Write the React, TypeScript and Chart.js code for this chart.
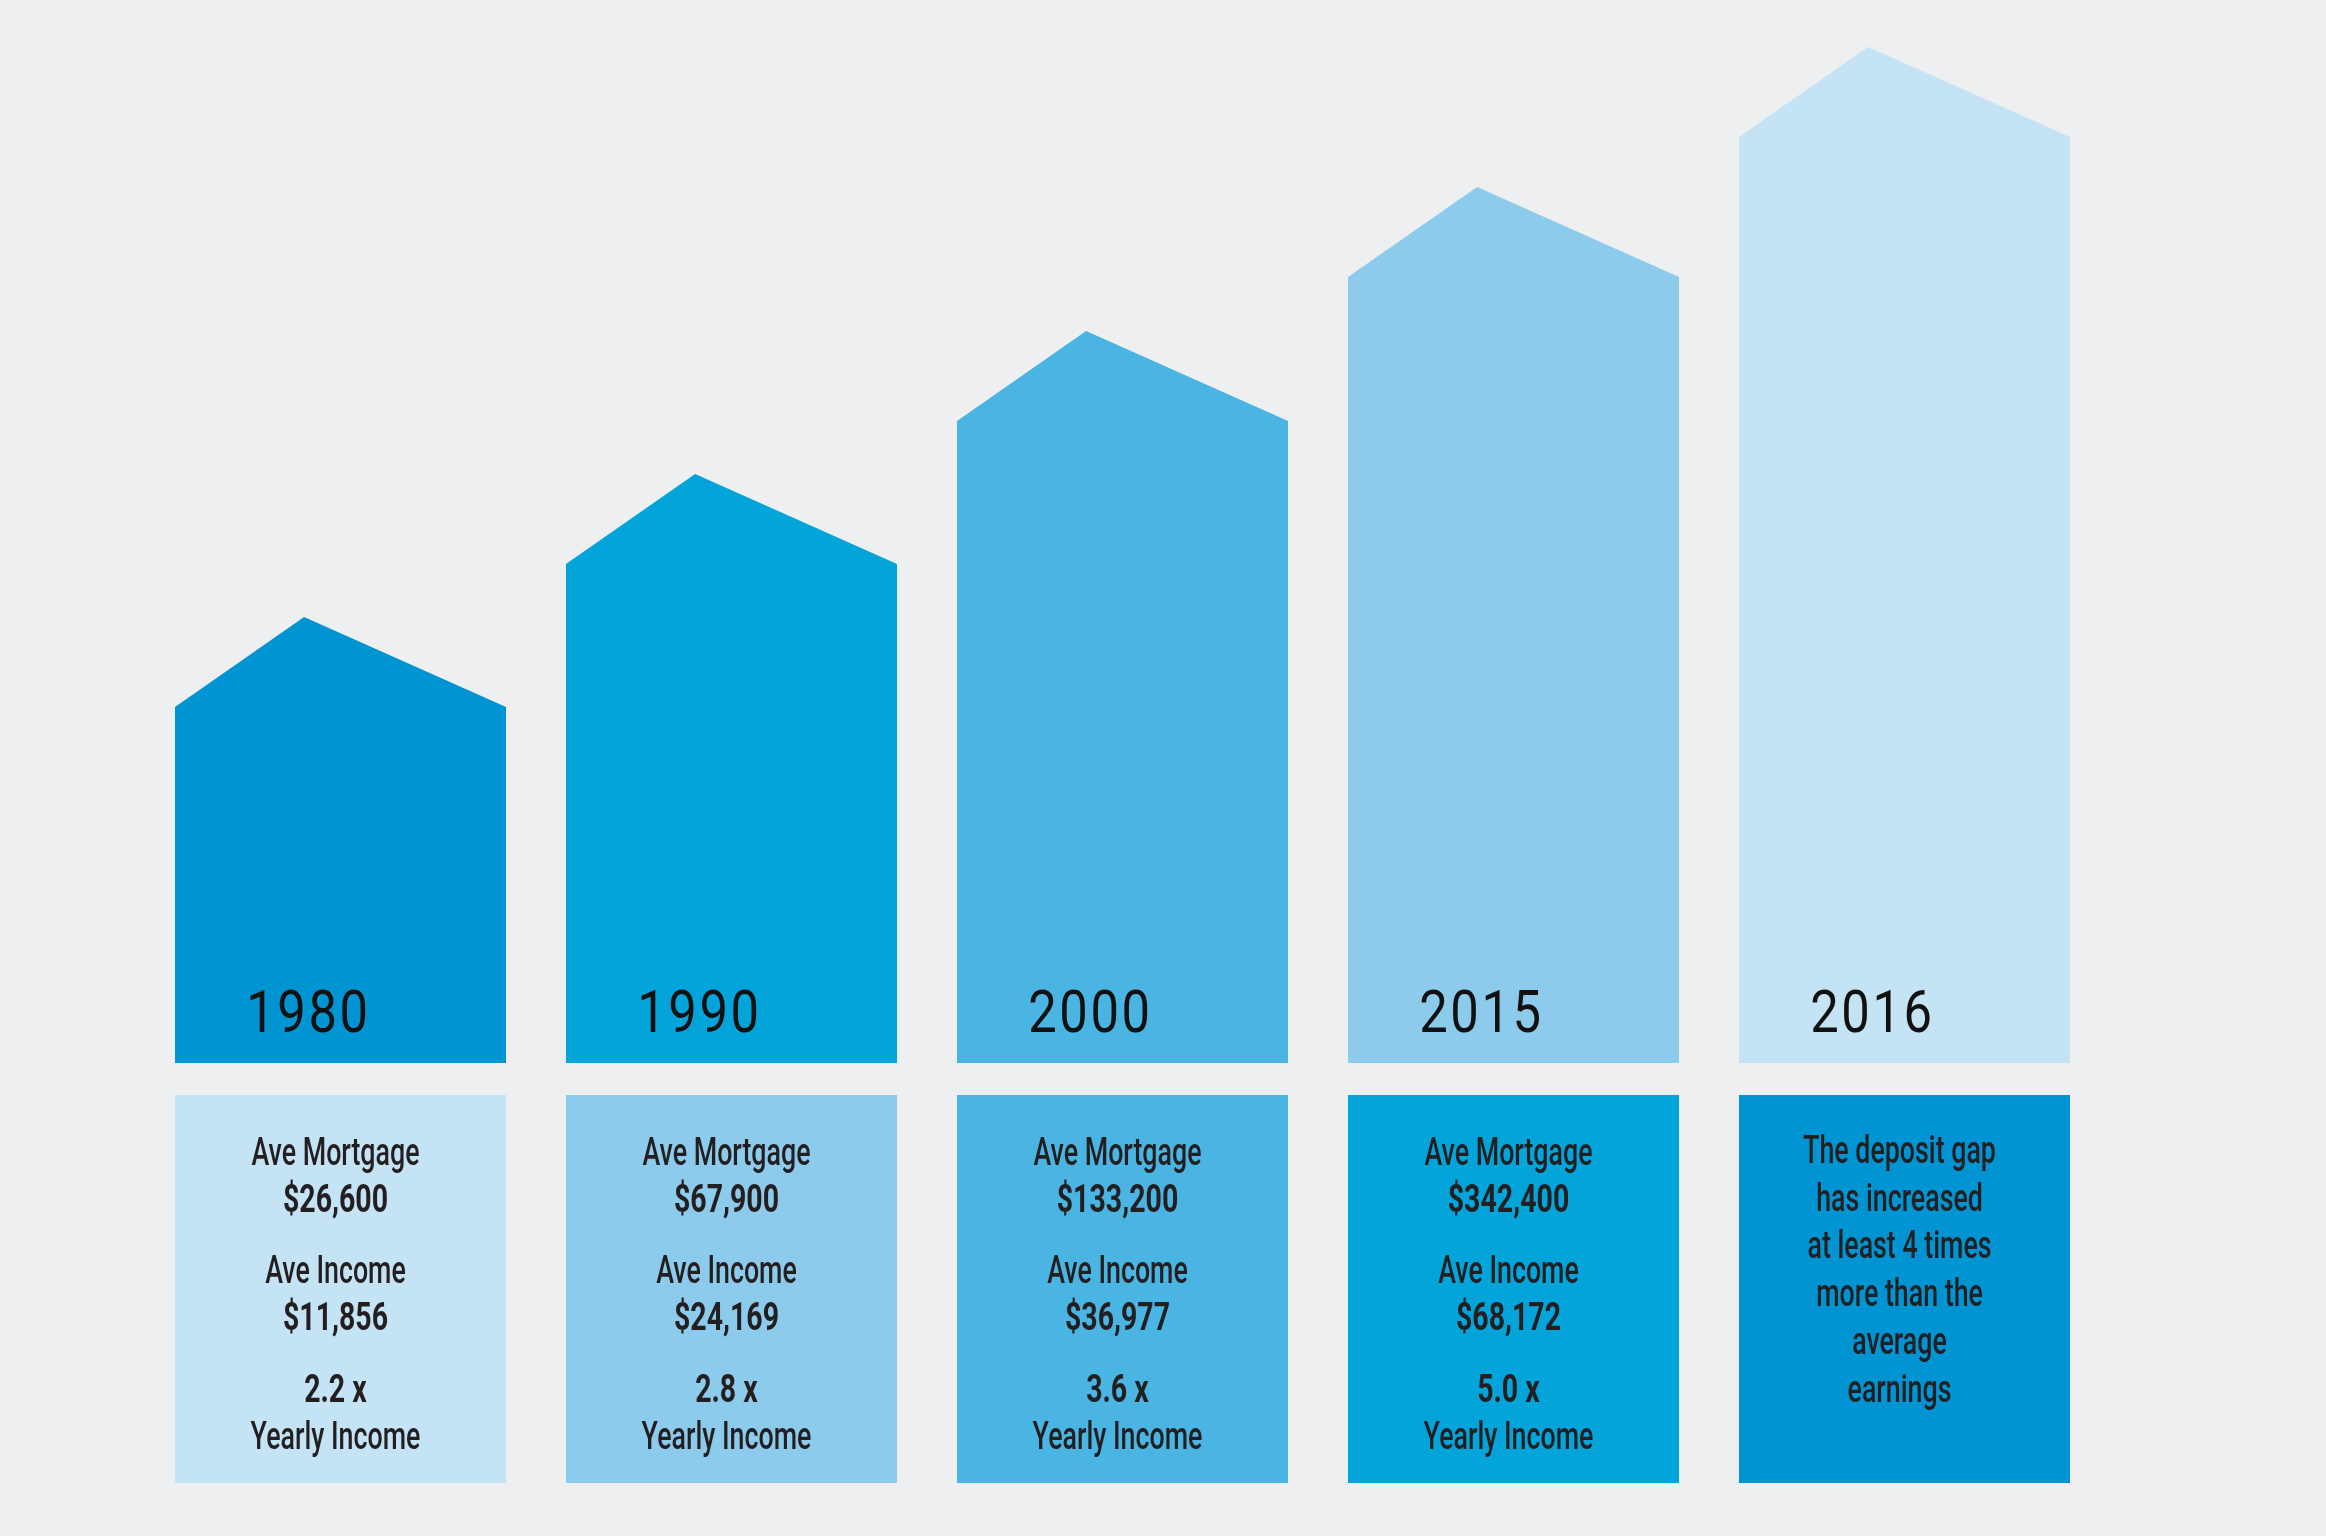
import React, { useEffect, useRef } from "react";
import { Chart, registerables } from "chart.js";

Chart.register(...registerables);

// ---- data ----
const years = ["1980", "1990", "2000", "2015", "2016"];
const houseHeights = [356, 499, 642, 786, 926];
const roofRise = 90;
const mortgages = [26600, 67900, 133200, 342400];
const incomes = [11856, 24169, 36977, 68172];
const ratios = [2.2, 2.8, 3.6, 5.0];
const gapNote = [
  "The deposit gap",
  "has increased",
  "at least 4 times",
  "more than the",
  "average",
  "earnings",
];
const panelRange = [-420, -32];

// ---- styles ----
const houseColors = ["#0094D2", "#03A4DA", "#4AB4E2", "#8DCBEC", "#C4E3F5"];
const panelColors = ["#C4E3F5", "#8DCBEC", "#4AB4E2", "#03A4DA", "#0094D2"];
const bg = "#EDEFF1";
const textDark = "#231F20";

const fmt = (n: number) => n.toLocaleString("en-US");

const drawCondensed = (
  ctx: CanvasRenderingContext2D,
  text: string,
  cx: number,
  y: number,
  font: string,
  sx: number,
  spacing = "0px"
) => {
  ctx.save();
  ctx.translate(cx, y);
  ctx.scale(sx, 1);
  ctx.font = font;
  (ctx as any).letterSpacing = spacing;
  ctx.textAlign = "center";
  ctx.textBaseline = "alphabetic";
  ctx.fillText(text, 0, 0);
  ctx.restore();
};

const housePlugin = {
  id: "houses",
  afterDatasetsDraw(chart: any) {
    const ctx: CanvasRenderingContext2D = chart.ctx;
    const yScale = chart.scales.y;
    const houses = chart.getDatasetMeta(0).data;
    houses.forEach((bar: any, i: number) => {
      const { x, y: top, width, base } = bar.getProps(["x", "y", "width", "base"], true);
      const left = x - width / 2;
      const right = x + width / 2;
      const peakY = yScale.getPixelForValue(houseHeights[i] + roofRise);
      ctx.save();
      ctx.fillStyle = houseColors[i];
      ctx.beginPath();
      ctx.moveTo(left, top + 1.5);
      ctx.lineTo(left, top);
      ctx.lineTo(left + width * 0.39, peakY);
      ctx.lineTo(right, top);
      ctx.lineTo(right, top + 1.5);
      ctx.closePath();
      ctx.fill();
      ctx.fillStyle = "#111111";
      drawCondensed(ctx, years[i], x - width * 0.097, base - 31, "400 59px Roboto", 0.86, "3px");
      ctx.restore();
    });

    const panels = chart.getDatasetMeta(1).data;
    panels.forEach((bar: any, i: number) => {
      const { x } = bar.getProps(["x"], true);
      const topPx = yScale.getPixelForValue(panelRange[1]);
      const cx = x - 5;
      ctx.save();
      ctx.fillStyle = textDark;
      const reg = "500 38px Roboto";
      const bold = "700 38px Roboto";
      const sxReg = 0.705;
      const sxBold = 0.75;
      if (i < mortgages.length) {
        const lines = [
          { t: "Ave Mortgage", f: reg, s: sxReg, o: 70 },
          { t: "$" + fmt(mortgages[i]), f: bold, s: sxBold, o: 117 },
          { t: "Ave Income", f: reg, s: sxReg, o: 188 },
          { t: "$" + fmt(incomes[i]), f: bold, s: sxBold, o: 235 },
          { t: ratios[i].toFixed(1) + " x", f: bold, s: sxBold, o: 307 },
          { t: "Yearly Income", f: reg, s: sxReg, o: 354 },
        ];
        lines.forEach((l) => drawCondensed(ctx, l.t, cx, topPx + l.o, l.f, l.s));
      } else {
        gapNote.forEach((t, k) => drawCondensed(ctx, t, cx, topPx + 68 + k * 47.7, reg, sxReg));
      }
      ctx.restore();
    });
  },
};

export default function App() {
  const ref = useRef<HTMLCanvasElement | null>(null);
  useEffect(() => {
    document.body.style.margin = "0";
    document.body.style.background = bg;
    if (!ref.current) return;
    const chart = new Chart(ref.current, {
      type: "bar",
      data: {
        labels: years,
        datasets: [
          {
            data: houseHeights,
            backgroundColor: houseColors,
            borderWidth: 0,
            grouped: false,
            barPercentage: 0.8466,
            categoryPercentage: 1,
          } as any,
          {
            data: years.map(() => panelRange),
            backgroundColor: panelColors,
            borderWidth: 0,
            grouped: false,
            barPercentage: 0.8466,
            categoryPercentage: 1,
          } as any,
        ],
      },
      options: {
        responsive: true,
        maintainAspectRatio: false,
        animation: false,
        events: [],
        layout: { padding: { left: 145, right: 226, top: 0, bottom: 0 } },
        scales: {
          x: { display: false },
          y: { display: false, min: -473, max: 1063 },
        },
        plugins: {
          legend: { display: false },
          tooltip: { enabled: false },
        },
      },
      plugins: [housePlugin],
    });
    return () => chart.destroy();
  }, []);
  return (
    <div style={{ position: "fixed", left: 0, top: 0, width: 2326, height: 1536, background: bg }}>
      <canvas ref={ref} />
    </div>
  );
}
